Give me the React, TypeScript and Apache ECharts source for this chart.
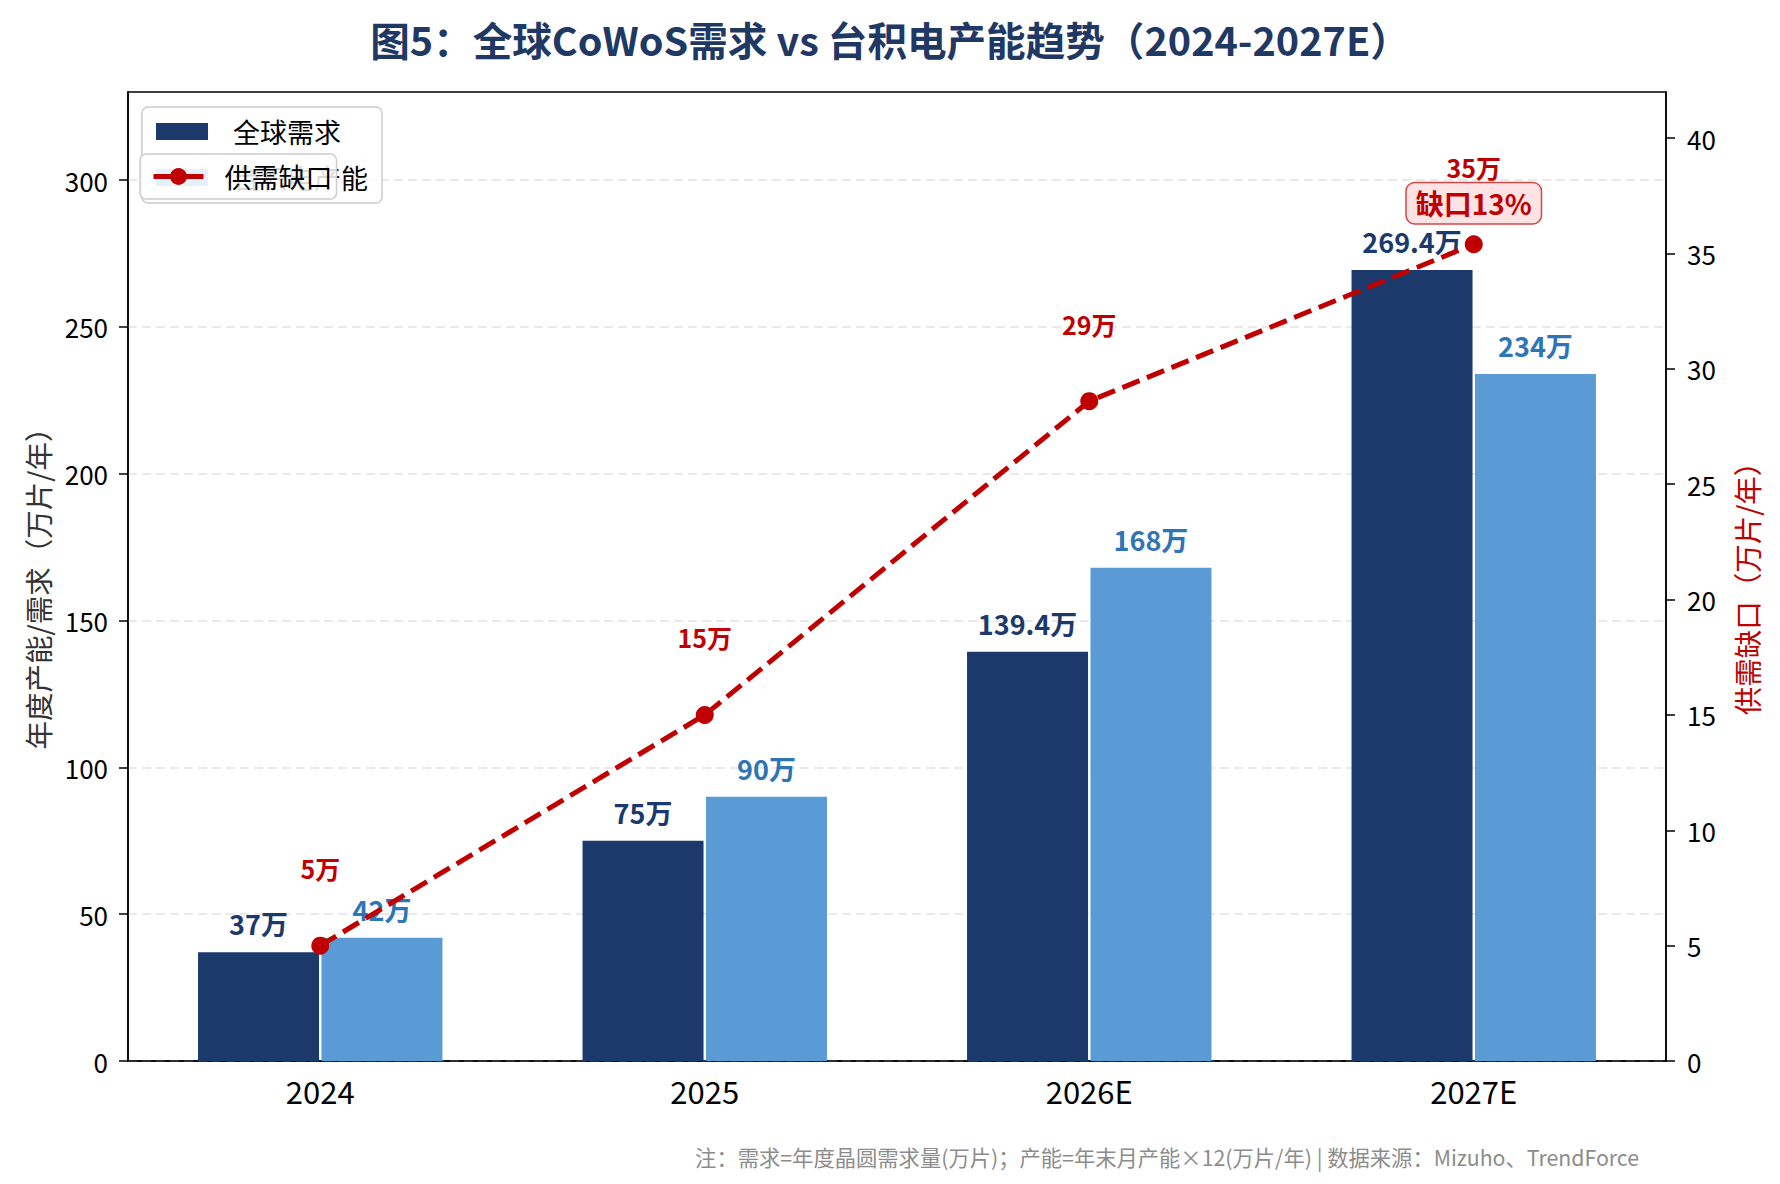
import * as React from "react";
import * as echarts from "echarts";

const FONT = '"Noto Sans CJK SC", "Noto Sans", sans-serif';

const categories = ["2024", "2025", "2026E", "2027E"];
const demand = [37, 75, 139.4, 269.4];
const capacity = [42, 90, 168, 234];
const gap = [5, 15, 28.6, 35.4];
const leftTicks = [0, 50, 100, 150, 200, 250, 300];
const rightTicks = [0, 5, 10, 15, 20, 25, 30, 35, 40];

const TITLE = "图5：全球CoWoS需求 vs 台积电产能趋势（2024-2027E）";
const NOTE = "注：需求=年度晶圆需求量(万片)；产能=年末月产能×12(万片/年) | 数据来源：Mizuho、TrendForce";

const NAVY = "#1B3A6B";
const LIGHT = "#5B9BD5";
const RED = "#C00000";

export default function App() {
  const ref = React.useRef<HTMLDivElement | null>(null);

  React.useEffect(() => {
    if (!ref.current) return;
    const chart = echarts.init(ref.current, undefined, { renderer: "svg" });
    const last = categories.length - 1;
    const pct = Math.round((gap[last] / demand[last]) * 100);

    const axisLine = { show: true, lineStyle: { color: "#000", width: 1.5 } };
    const tickStyle = { color: "#000", width: 1.5 };

    const option: echarts.EChartsOption = {
      animation: false,
      backgroundColor: "#fff",
      textStyle: { fontFamily: FONT },
      title: [
        {
          text: TITLE,
          left: "center",
          top: 14,
          textStyle: { fontSize: 39.6, fontWeight: "bold", color: "#1F3864", fontFamily: FONT },
        },
        {
          text: NOTE,
          right: 136,
          top: 1141,
          textStyle: { fontSize: 21.3, fontWeight: "normal", color: "#8c8c8c", fontFamily: FONT },
        },
      ],
      grid: {
        left: 128,
        right: 114,
        top: 92,
        bottom: 123,
        show: true,
        borderColor: "#000",
        borderWidth: 1.5,
      },
      legend: [
        {
          data: ["全球需求", "台积电产能"],
          orient: "vertical",
          left: 142,
          top: 107,
          padding: [11, 14, 12, 14],
          itemGap: 19,
          itemWidth: 52,
          itemHeight: 17,
          icon: "rect",
          backgroundColor: "rgba(255,255,255,0.8)",
          borderColor: "#cccccc",
          borderWidth: 1.5,
          borderRadius: 6,
          textStyle: { fontSize: 27, color: "#000", padding: [0, 0, 0, 20], fontFamily: FONT },
          z: 5,
        },
        {
          data: ["供需缺口"],
          left: 140,
          top: 154,
          padding: [9, 4, 9, 11],
          itemWidth: 50,
          itemHeight: 21,
          backgroundColor: "rgba(255,255,255,0.85)",
          borderColor: "#cccccc",
          borderWidth: 1.5,
          borderRadius: 6,
          lineStyle: { type: "solid", width: 5 },
          textStyle: { fontSize: 27, color: "#000", padding: [0, 0, 0, 16], fontFamily: FONT },
          z: 6,
        },
      ],
      xAxis: {
        type: "category",
        data: categories,
        axisLine,
        axisTick: { alignWithLabel: true, length: 9, lineStyle: tickStyle },
        axisLabel: { fontSize: 31, color: "#000", margin: 14 },
      },
      yAxis: [
        {
          type: "value",
          min: 0,
          max: 330,
          interval: 50,
          name: "年度产能/需求（万片/年）",
          nameLocation: "middle",
          nameGap: 76,
          nameRotate: 90,
          nameTextStyle: { fontSize: 28.5, color: "#333", padding: [0, 10, 0, 0] },
          axisLine,
          axisTick: { show: true, length: 9, lineStyle: tickStyle, customValues: leftTicks } as any,
          axisLabel: {
            fontSize: 26,
            color: "#000",
            margin: 20,
            customValues: leftTicks,
            formatter: (v: number) => (leftTicks.includes(v) ? String(v) : ""),
          } as any,
          splitLine: { show: true, lineStyle: { color: "#e2e2e2", type: [9, 5], width: 1.5 } },
        },
        {
          type: "value",
          position: "right",
          min: 0,
          max: 42,
          interval: 5,
          name: "供需缺口（万片/年）",
          nameLocation: "middle",
          nameGap: 66,
          nameRotate: 90,
          nameTextStyle: { fontSize: 28.5, color: RED, padding: [0, 10, 0, 0] },
          axisLine,
          axisTick: { show: true, length: 9, lineStyle: tickStyle, customValues: rightTicks } as any,
          axisLabel: {
            fontSize: 26,
            color: "#000",
            margin: 21,
            customValues: rightTicks,
            formatter: (v: number) => (rightTicks.includes(v) ? String(v) : ""),
          } as any,
          splitLine: { show: false },
        },
      ],
      series: [
        {
          name: "全球需求",
          type: "bar",
          data: demand,
          barWidth: 121,
          barGap: "2%",
          itemStyle: { color: NAVY },
          label: {
            show: true,
            position: "top",
            distance: 15,
            formatter: (p: any) => `${p.value}万`,
            fontSize: 27,
            fontWeight: "bold",
            color: NAVY,
          },
        },
        {
          name: "台积电产能",
          type: "bar",
          data: capacity,
          barWidth: 121,
          barGap: "2%",
          itemStyle: { color: LIGHT },
          label: {
            show: true,
            position: "top",
            distance: 15,
            formatter: (p: any) => `${p.value}万`,
            fontSize: 27,
            fontWeight: "bold",
            color: "#2E75B6",
          },
        },
        {
          name: "供需缺口",
          type: "line",
          yAxisIndex: 1,
          data: gap,
          symbol: "circle",
          symbolSize: 18,
          z: 5,
          itemStyle: { color: RED },
          lineStyle: { color: RED, width: 5, type: [18.5, 8] },
          label: {
            show: true,
            position: "top",
            distance: 56,
            formatter: (p: any) => `${Math.round(p.value)}万`,
            fontSize: 25,
            fontWeight: "bold",
            color: RED,
          },
          markPoint: {
            symbol: "circle",
            symbolSize: 1,
            itemStyle: { color: "rgba(0,0,0,0)" },
            data: [
              {
                coord: [last, gap[last]],
                label: {
                  show: true,
                  position: "inside",
                  offset: [0, -41],
                  formatter: `缺口${pct}%`,
                  fontSize: 28,
                  fontWeight: "bold",
                  color: RED,
                  backgroundColor: "#FDE3E3",
                  borderColor: "#D64545",
                  borderWidth: 1.5,
                  borderRadius: 8,
                  padding: [6, 9],
                },
              },
            ],
          },
        },
      ],
    };

    chart.setOption(option);
    return () => chart.dispose();
  }, []);

  return (
    <div
      ref={ref}
      style={{ position: "fixed", left: 0, top: 0, width: 1780, height: 1184, background: "#fff" }}
    />
  );
}
